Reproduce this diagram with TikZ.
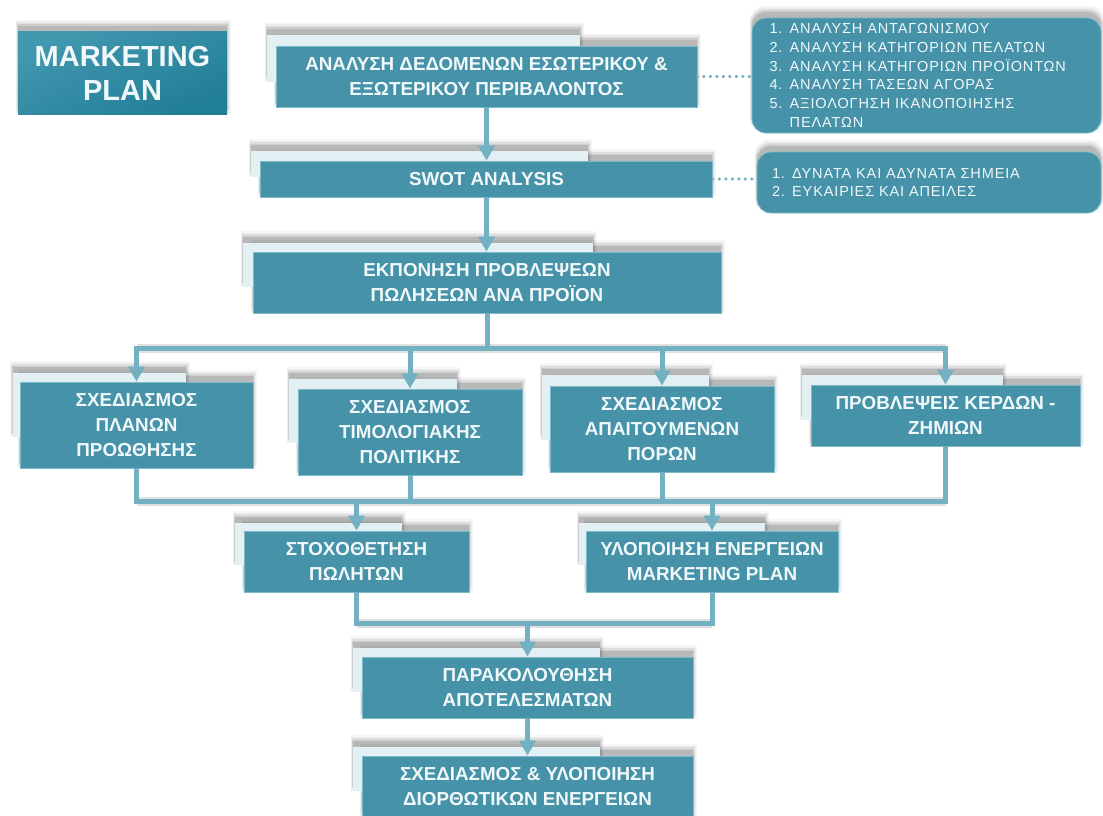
\documentclass[tikz,border=0pt]{standalone}
\usepackage{fontspec}
\setmainfont{Liberation Sans}
\usetikzlibrary{arrows.meta}
\definecolor{boxfill}{RGB}{70,146,168}
\definecolor{boxedge}{RGB}{125,185,202}
\definecolor{lightbg}{RGB}{226,240,243}
\definecolor{conn}{RGB}{114,176,194}
\definecolor{boxtext}{RGB}{240,248,250}
\definecolor{titleA}{RGB}{66,152,175}
\definecolor{titleB}{RGB}{33,126,151}
% soft shadow cast upward: #1 corner radius, #2..#5 = x1,y1,x2,y2
\newcommand{\softshadow}[5][0pt]{%
  \foreach \r/\o in {0/0.10,1.5/0.08,3/0.06,4.5/0.04,6/0.03}{%
    \fill[black,opacity=\o,rounded corners=#1] ({#2-0.4*\r},{#3-6-\r}) rectangle ({#4+0.6*\r},{#5-6+\r});
  }}
\newcommand{\backplate}[4]{\softshadow{#1}{#2}{#3}{#4}\fill[lightbg] (#1,#2) rectangle (#3,#4);}
\begin{document}
\begin{tikzpicture}[x=1pt,y=-1pt,
  box/.style={draw=boxedge, line width=0.8pt, fill=boxfill, text=boxtext, inner sep=0pt,
    align=center, font=\fontsize{18.8}{25}\selectfont\bfseries},
  listbox/.style={draw=boxedge, line width=0.8pt, fill=boxfill, text=boxtext, inner sep=0pt,
    rounded corners=14pt, align=left, font=\fontsize{14.5}{18.8}\selectfont\addfontfeature{LetterSpace=6}},
  titlebox/.style={top color=titleA, bottom color=titleB, shading angle=25, text=boxtext, inner sep=0pt,
    align=center, font=\fontsize{29}{34}\selectfont\bfseries},
  link/.style={draw=conn, line width=5pt},
  arrowlink/.style={link, -{Triangle[width=16pt,length=15pt]}},
  dotlink/.style={draw=conn, line width=3.5pt, line cap=round, dash pattern=on 0pt off 6.5pt},
  shadowline/.style={draw=black, draw opacity=0.12, line width=9pt, yshift=5pt}
]
\useasboundingbox (0,0) rectangle (1103,816);
\fill[white] (0,0) rectangle (1103,816);

% title
\softshadow{18}{32}{227}{114}
\node[titlebox, minimum width=209pt, minimum height=82pt] (title) at (122.5,73) {MARKETING\\PLAN};

% right lists
\softshadow[14pt]{752}{18}{1101}{133}
\node[listbox, minimum width=349pt, minimum height=115pt, text width=314pt] (list1) at (926.5,75.5)
 {1. ΑΝΑΛΥΣΗ ΑΝΤΑΓΩΝΙΣΜΟΥ\\2. ΑΝΑΛΥΣΗ ΚΑΤΗΓΟΡΙΩΝ ΠΕΛΑΤΩΝ\\3. ΑΝΑΛΥΣΗ ΚΑΤΗΓΟΡΙΩΝ ΠΡΟΪΟΝΤΩΝ\\4. ΑΝΑΛΥΣΗ ΤΑΣΕΩΝ ΑΓΟΡΑΣ\\5. ΑΞΙΟΛΟΓΗΣΗ ΙΚΑΝΟΠΟΙΗΣΗΣ\\\phantom{5. }ΠΕΛΑΤΩΝ};
\softshadow[14pt]{757}{152}{1101}{213}
\node[listbox, minimum width=344pt, minimum height=61pt, text width=314pt] (list2) at (929,182.5)
 {1. ΔΥΝΑΤΑ ΚΑΙ ΑΔΥΝΑΤΑ ΣΗΜΕΙΑ\\2. ΕΥΚΑΙΡΙΕΣ ΚΑΙ ΑΠΕΙΛΕΣ};

% top chain
\softshadow{276}{46}{697}{107}\backplate{267}{35}{580}{82}
\node[box, minimum width=421pt, minimum height=61pt] (anal) at (486.5,76.5)
 {ΑΝΑΛΥΣΗ ΔΕΔΟΜΕΝΩΝ ΕΣΩΤΕΡΙΚΟΥ \&\\ΕΞΩΤΕΡΙΚΟΥ ΠΕΡΙΒΑΛΟΝΤΟΣ};
\softshadow{260}{161}{712}{197}\backplate{251}{151}{588}{177}
\node[box, minimum width=452pt, minimum height=36pt] (swot) at (486.5,179) {SWOT ANALYSIS};
\softshadow{253}{252}{721}{313}\backplate{243}{243}{593}{287}
\node[box, minimum width=468pt, minimum height=61pt] (ekpon) at (487,282.5)
 {ΕΚΠΟΝΗΣΗ ΠΡΟΒΛΕΨΕΩΝ\\ΠΩΛΗΣΕΩΝ ΑΝΑ ΠΡΟΪΟΝ};

% row of four
\softshadow{20}{382}{253}{468}\backplate{12.5}{373}{186}{437}
\node[box, minimum width=233pt, minimum height=86pt] (planA) at (136.5,425)
 {ΣΧΕΔΙΑΣΜΟΣ\\ΠΛΑΝΩΝ\\ΠΡΟΩΘΗΣΗΣ};
\softshadow{298}{389}{522}{475}\backplate{289}{379}{457}{443}
\node[box, minimum width=224pt, minimum height=86pt] (planB) at (410,432)
 {ΣΧΕΔΙΑΣΜΟΣ\\ΤΙΜΟΛΟΓΙΑΚΗΣ\\ΠΟΛΙΤΙΚΗΣ};
\softshadow{550}{386}{774}{472}\backplate{542}{375}{709}{440}
\node[box, minimum width=224pt, minimum height=86pt] (planC) at (662,429)
 {ΣΧΕΔΙΑΣΜΟΣ\\ΑΠΑΙΤΟΥΜΕΝΩΝ\\ΠΟΡΩΝ};
\softshadow{811}{385}{1080}{446}\backplate{802}{375}{1003}{420}
\node[box, minimum width=269pt, minimum height=61pt] (kerdi) at (945.5,415.5)
 {ΠΡΟΒΛΕΨΕΙΣ ΚΕΡΔΩΝ -\\ΖΗΜΙΩΝ};

% second row
\softshadow{244}{531}{469}{592}\backplate{235}{523}{402}{565}
\node[box, minimum width=225pt, minimum height=61pt] (stoch) at (356.5,561.5)
 {ΣΤΟΧΟΘΕΤΗΣΗ\\ΠΩΛΗΤΩΝ};
\softshadow{586}{531}{838}{592}\backplate{579}{523}{765}{565}
\node[box, minimum width=252pt, minimum height=61pt] (ylop) at (712,561.5)
 {ΥΛΟΠΟΙΗΣΗ ΕΝΕΡΓΕΙΩΝ\\MARKETING PLAN};

% bottom chain
\softshadow{362}{657}{693}{718}\backplate{353}{648}{600}{692}
\node[box, minimum width=331pt, minimum height=61pt] (parak) at (527.5,687.5)
 {ΠΑΡΑΚΟΛΟΥΘΗΣΗ\\ΑΠΟΤΕΛΕΣΜΑΤΩΝ};
\softshadow{362}{756}{693}{817}\backplate{353}{747}{600}{791}
\node[box, minimum width=331pt, minimum height=61pt] (diorth) at (527.5,786.5)
 {ΣΧΕΔΙΑΣΜΟΣ \& ΥΛΟΠΟΙΗΣΗ\\ΔΙΟΡΘΩΤΙΚΩΝ ΕΝΕΡΓΕΙΩΝ};

% bus coordinates
\coordinate (busA) at (487,348);
\coordinate (busB) at (500,501);
\coordinate (busC) at (528,623);

% connector shadows
\draw[shadowline] (planA.north |- busA) -- (kerdi.north |- busA);
\draw[shadowline] (planA.south |- busB) -- (kerdi.south |- busB);
\draw[shadowline] (stoch.south |- busC) -- (ylop.south |- busC);

% connectors
\draw[arrowlink] (anal.south) -- (anal.south |- swot.north);
\draw[arrowlink] (swot.south) -- (swot.south |- ekpon.north);
\draw[dotlink] (anal.east) -- (anal.east -| list1.west);
\draw[dotlink] (swot.east) -- (swot.east -| list2.west);

\draw[link] (ekpon.south) -- (ekpon.south |- busA);
\draw[arrowlink] (ekpon.south |- busA) -| (planA.north);
\draw[arrowlink] (ekpon.south |- busA) -| (kerdi.north);
\draw[arrowlink] (planB.north |- busA) -- (planB.north);
\draw[arrowlink] (planC.north |- busA) -- (planC.north);

\draw[link] (planA.south) |- (kerdi.south |- busB) -- (kerdi.south);
\draw[link] (planB.south) -- (planB.south |- busB);
\draw[link] (planC.south) -- (planC.south |- busB);
\draw[arrowlink] (stoch.north |- busB) -- (stoch.north);
\draw[arrowlink] (ylop.north |- busB) -- (ylop.north);

\draw[link] (stoch.south) |- (ylop.south |- busC) -- (ylop.south);
\draw[arrowlink] (parak.north |- busC) -- (parak.north);
\draw[arrowlink] (parak.south) -- (diorth.north);
\end{tikzpicture}
\end{document}
